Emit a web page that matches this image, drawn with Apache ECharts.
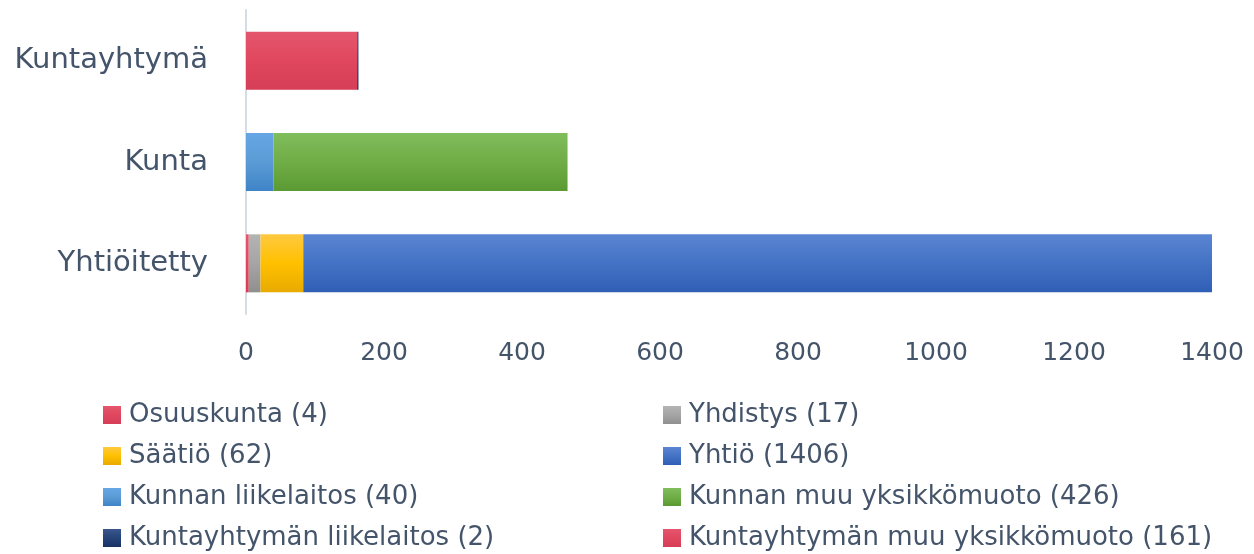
<!DOCTYPE html>
<html>
<head>
<meta charset="utf-8">
<script src="https://cdn.jsdelivr.net/npm/echarts@6/dist/echarts.min.js"></script>
<style>
  html, body { margin: 0; padding: 0; background: #fff; }
  #chart { width: 1254px; height: 554px; }
</style>
</head>
<body>
<div id="chart"></div>
<script>
// categories, bottom to top
var categories = ["Yhtiöitetty", "Kunta", "Kuntayhtymä"];
var xTicks = { min: 0, max: 1400, interval: 200 };

// series values per category [Yhtiöitetty, Kunta, Kuntayhtymä]
var osuuskunta = [4, 0, 0];
var yhdistys = [17, 0, 0];
var saatio = [62, 0, 0];
var yhtio = [1406, 0, 0];
var kunnanLiikelaitos = [0, 40, 0];
var kunnanMuu = [0, 426, 0];
var kuntayhtymanMuu = [0, 0, 161];
var kuntayhtymanLiikelaitos = [0, 0, 2];

var names = {
  osuus: "Osuuskunta (4)",
  yhd: "Yhdistys (17)",
  saatio: "Säätiö (62)",
  yhtio: "Yhtiö (1406)",
  kLiike: "Kunnan liikelaitos (40)",
  kMuu: "Kunnan muu yksikkömuoto (426)",
  kyLiike: "Kuntayhtymän liikelaitos (2)",
  kyMuu: "Kuntayhtymän muu yksikkömuoto (161)"
};

var textColor = "#44546a";
var fontFam = "'DejaVu Sans', sans-serif";

function grad(top, mid, bottom) {
  return new echarts.graphic.LinearGradient(0, 0, 0, 1, [
    { offset: 0, color: top },
    { offset: 0.5, color: mid },
    { offset: 1, color: bottom }
  ]);
}

function bar(name, data, color) {
  return {
    name: name,
    type: "bar",
    stack: "total",
    barWidth: 58,
    data: data,
    itemStyle: { color: color },
    emphasis: { disabled: true }
  };
}

function legendCol(left, items) {
  return {
    orient: "vertical",
    left: left,
    top: 402,
    padding: 0,
    height: 200,
    itemWidth: 18,
    itemHeight: 18,
    itemGap: 15,
    icon: "rect",
    textStyle: { color: textColor, fontSize: 26, fontFamily: fontFam, padding: [0, 0, 0, 3] },
    data: items
  };
}

var myChart = echarts.init(document.getElementById("chart"));
var opt = {
  animation: false,
  textStyle: { fontFamily: fontFam },
  grid: { left: 246, right: 42, top: 10, bottom: 240 },
  xAxis: {
    type: "value",
    min: xTicks.min,
    max: xTicks.max,
    interval: xTicks.interval,
    axisLine: { show: false },
    axisTick: { show: false },
    splitLine: { show: false },
    axisLabel: {
      color: textColor, fontSize: 25, margin: 27, fontFamily: fontFam,
      formatter: function (v) { return String(v); }
    }
  },
  yAxis: {
    type: "category",
    data: categories,
    axisLine: { show: true, lineStyle: { color: "#d6dce5", width: 2 } },
    axisTick: { show: false },
    axisLabel: { color: textColor, fontSize: 29, margin: 38, fontFamily: fontFam }
  },
  legend: [
    legendCol(103, [names.osuus, names.saatio, names.kLiike, names.kyLiike]),
    legendCol(663, [names.yhd, names.yhtio, names.kMuu, names.kyMuu])
  ],
  series: [
    bar(names.osuus, osuuskunta, grad("#e4566c", "#e0475f", "#d63d56")),
    bar(names.yhd, yhdistys, grad("#b4b4b4", "#a5a5a5", "#8f8f8f")),
    bar(names.saatio, saatio, grad("#ffc93f", "#ffc000", "#e8aa00")),
    bar(names.yhtio, yhtio, grad("#5a85d2", "#4472c4", "#2f5fb5")),
    bar(names.kLiike, kunnanLiikelaitos, grad("#66a6e4", "#5b9bd5", "#3f84c8")),
    bar(names.kMuu, kunnanMuu, grad("#80bd5c", "#70ad47", "#5b9a33")),
    bar(names.kyMuu, kuntayhtymanMuu, grad("#e4566c", "#e0475f", "#d63d56")),
    bar(names.kyLiike, kuntayhtymanLiikelaitos, grad("#3a568e", "#264478", "#1a3266"))
  ]
};
myChart.setOption(opt);
</script>
</body>
</html>
